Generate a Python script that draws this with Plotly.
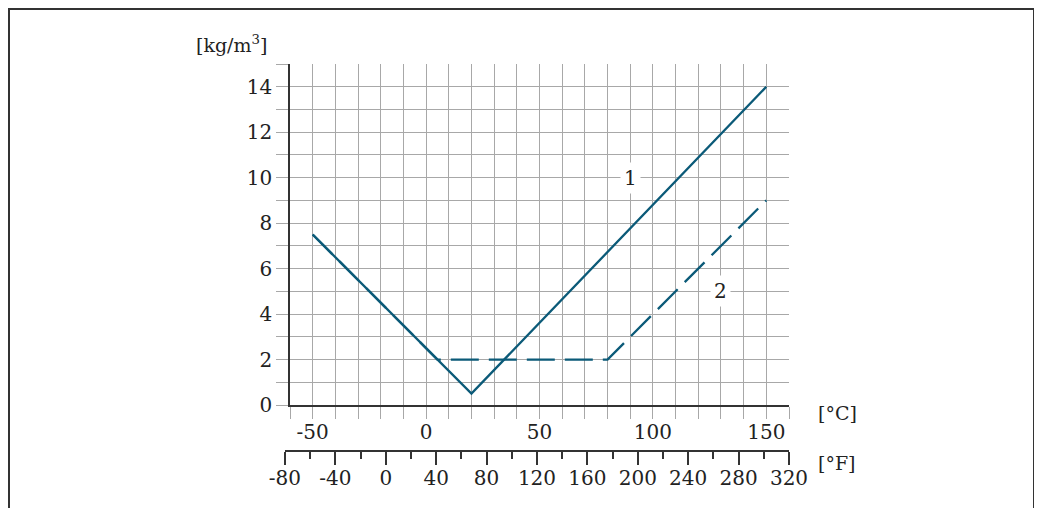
"""Density deviation vs. temperature, with a Celsius grid and a Fahrenheit scale below."""

import plotly.graph_objects as go

# data
curve1_temp_c = [-50, 20, 150]
curve1_density = [7.5, 0.5, 14]

curve2_temp_c = [-50, 5, 80, 150]
curve2_density = [7.5, 2, 2, 9]

celsius_ticks = [-50, 0, 50, 100, 150]
fahrenheit_ticks = [-80, -40, 0, 40, 80, 120, 160, 200, 240, 280, 320]
density_ticks = [0, 2, 4, 6, 8, 10, 12, 14]

curve_labels = ["1", "2"]
label_temp_c = [90, 130]
label_density = [10, 5]

LINE = "#0b5a78"
GRID = "#a8a8a8"
AXIS = "#333333"
TEXT = "#222222"
FONT = "DejaVu Serif"

W, H = 1042, 508
OFF = 8  # the page body adds an 8 px margin around the figure
C_RANGE = [-60, 160]
Y_RANGE = [0, 15]

# target page positions of the plot box and of the Fahrenheit axis line
PLOT_LEFT, PLOT_RIGHT = 290, 789
PLOT_TOP, PLOT_BOTTOM = 64, 405
F_AXIS_Y = 450
PAPER_LEFT = 280

L = PAPER_LEFT - OFF
R = W - (PLOT_RIGHT - OFF)
T = PLOT_TOP - OFF
B = H - (F_AXIS_Y - OFF)


def px_x(px):
    return (px - OFF - L) / (W - L - R)


def px_y(py):
    return (H - B - (py - OFF)) / (H - T - B)


def c_to_f(c):
    return c * 9 / 5 + 32


# Fahrenheit axis starts a little left of the plot so that -80 °F gets its tick
px_per_c = (PLOT_RIGHT - PLOT_LEFT) / (C_RANGE[1] - C_RANGE[0])
f_left_c = (fahrenheit_ticks[0] - 32) * 5 / 9
f_left_px = PLOT_LEFT + (f_left_c - C_RANGE[0]) * px_per_c

fig = go.Figure()

fig.add_trace(
    go.Scatter(
        x=curve2_temp_c,
        y=curve2_density,
        mode="lines",
        line=dict(color=LINE, width=2.3, dash="28px,10px"),
        hoverinfo="skip",
    )
)
fig.add_trace(
    go.Scatter(
        x=curve1_temp_c,
        y=curve1_density,
        mode="lines",
        line=dict(color=LINE, width=2.3),
        hoverinfo="skip",
    )
)

# empty trace on its own thin subplot so the Fahrenheit scale is drawn
fig.add_trace(
    go.Scatter(
        x=[fahrenheit_ticks[0], fahrenheit_ticks[-1]],
        y=[0, 0],
        xaxis="x2",
        yaxis="y2",
        mode="lines",
        line=dict(width=0),
        hoverinfo="skip",
    )
)

for text, xc, yd in zip(curve_labels, label_temp_c, label_density):
    fig.add_annotation(
        x=xc,
        y=yd,
        text=text,
        showarrow=False,
        bgcolor="white",
        borderpad=3,
        font=dict(size=20, color=TEXT, family=FONT),
    )

unit_font = dict(size=19, color=TEXT, family=FONT)
fig.add_annotation(
    x=px_x(231), y=px_y(44), xref="paper", yref="paper",
    xanchor="center", yanchor="middle",
    text="[kg/m<sup>3</sup>]", showarrow=False, font=unit_font,
)
fig.add_annotation(
    x=px_x(816), y=px_y(413), xref="paper", yref="paper",
    xanchor="left", yanchor="middle",
    text="[°C]", showarrow=False, font=unit_font,
)
fig.add_annotation(
    x=px_x(816), y=px_y(463), xref="paper", yref="paper",
    xanchor="left", yanchor="middle",
    text="[°F]", showarrow=False, font=unit_font,
)

# outer frame (left, top, right)
x0, x1 = px_x(OFF + 1), px_x(1034)
y0, y1 = px_y(530), px_y(OFF + 1)
fig.add_shape(
    type="path",
    xref="paper",
    yref="paper",
    path=f"M {x0},{y0} L {x0},{y1} L {x1},{y1} L {x1},{y0}",
    line=dict(color=AXIS, width=2),
)

tick_font = dict(size=20, color=TEXT, family=FONT)

fig.update_layout(
    width=W,
    height=H,
    margin=dict(l=L, r=R, t=T, b=B),
    paper_bgcolor="white",
    plot_bgcolor="rgba(0,0,0,0)",
    showlegend=False,
    xaxis=dict(
        range=C_RANGE,
        domain=[px_x(PLOT_LEFT), 1],
        anchor="y",
        tickvals=celsius_ticks,
        ticktext=[str(v) for v in celsius_ticks],
        ticks="outside",
        ticklen=12,
        tickcolor=GRID,
        tickfont=tick_font,
        ticklabelstandoff=-4,
        showgrid=True,
        gridcolor=GRID,
        gridwidth=1,
        showline=True,
        linecolor=AXIS,
        linewidth=1.5,
        zeroline=False,
        minor=dict(dtick=10, tick0=-60, ticks="outside", ticklen=12,
                   tickcolor=GRID, showgrid=True, gridcolor=GRID),
    ),
    yaxis=dict(
        range=Y_RANGE,
        domain=[px_y(PLOT_BOTTOM), 1],
        anchor="x",
        tickvals=density_ticks,
        ticktext=[str(v) for v in density_ticks],
        ticks="outside",
        ticklen=12,
        tickcolor=GRID,
        tickfont=tick_font,
        showgrid=True,
        gridcolor=GRID,
        showline=True,
        linecolor=AXIS,
        linewidth=1.5,
        zeroline=False,
        minor=dict(dtick=1, ticks="outside", ticklen=12,
                   tickcolor=GRID, showgrid=True, gridcolor=GRID),
    ),
    xaxis2=dict(
        range=[fahrenheit_ticks[0], c_to_f(C_RANGE[1])],
        domain=[px_x(f_left_px), 1],
        anchor="y2",
        tickvals=fahrenheit_ticks,
        ticktext=[str(v) for v in fahrenheit_ticks],
        ticks="outside",
        ticklen=13,
        tickwidth=1.5,
        tickcolor=AXIS,
        tickfont=tick_font,
        ticklabelstandoff=-4,
        showgrid=False,
        showline=True,
        linecolor=AXIS,
        linewidth=1.5,
        zeroline=False,
        minor=dict(dtick=20, tick0=-80, ticks="outside", ticklen=7,
                   tickwidth=1.5, tickcolor=AXIS, showgrid=False),
    ),
    yaxis2=dict(
        domain=[0, 0.002],
        anchor="x2",
        range=[0, 1],
        visible=False,
    ),
)

fig.write_html("out.html")
